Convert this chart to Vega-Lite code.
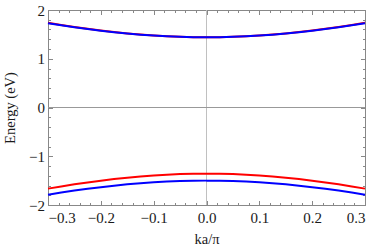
{
  "$schema": "https://vega.github.io/schema/vega-lite/v6.json",
  "width": 317,
  "height": 195,
  "autosize": {"type": "none"},
  "padding": {"left": 48, "top": 10, "right": 9, "bottom": 45},
  "config": {
    "view": {"stroke": "#888888", "strokeWidth": 1},
    "axis": {"domain": false, "grid": false, "tickColor": "#888888"}
  },
  "data": {"values": [
    {"k": -0.3, "E": 1.7374, "band": "upper", "c": "red"},
    {"k": -0.275, "E": 1.6934, "band": "upper", "c": "red"},
    {"k": -0.25, "E": 1.6522, "band": "upper", "c": "red"},
    {"k": -0.225, "E": 1.6141, "band": "upper", "c": "red"},
    {"k": -0.2, "E": 1.5791, "band": "upper", "c": "red"},
    {"k": -0.175, "E": 1.5476, "band": "upper", "c": "red"},
    {"k": -0.15, "E": 1.5198, "band": "upper", "c": "red"},
    {"k": -0.125, "E": 1.4959, "band": "upper", "c": "red"},
    {"k": -0.1, "E": 1.476, "band": "upper", "c": "red"},
    {"k": -0.075, "E": 1.4604, "band": "upper", "c": "red"},
    {"k": -0.05, "E": 1.4491, "band": "upper", "c": "red"},
    {"k": -0.025, "E": 1.4423, "band": "upper", "c": "red"},
    {"k": 0, "E": 1.44, "band": "upper", "c": "red"},
    {"k": 0.025, "E": 1.4423, "band": "upper", "c": "red"},
    {"k": 0.05, "E": 1.4491, "band": "upper", "c": "red"},
    {"k": 0.075, "E": 1.4604, "band": "upper", "c": "red"},
    {"k": 0.1, "E": 1.476, "band": "upper", "c": "red"},
    {"k": 0.125, "E": 1.4959, "band": "upper", "c": "red"},
    {"k": 0.15, "E": 1.5198, "band": "upper", "c": "red"},
    {"k": 0.175, "E": 1.5476, "band": "upper", "c": "red"},
    {"k": 0.2, "E": 1.5791, "band": "upper", "c": "red"},
    {"k": 0.225, "E": 1.6141, "band": "upper", "c": "red"},
    {"k": 0.25, "E": 1.6522, "band": "upper", "c": "red"},
    {"k": 0.275, "E": 1.6934, "band": "upper", "c": "red"},
    {"k": 0.3, "E": 1.7374, "band": "upper", "c": "red"},

    {"k": -0.3, "E": 1.7296, "band": "upper", "c": "blue"},
    {"k": -0.275, "E": 1.6867, "band": "upper", "c": "blue"},
    {"k": -0.25, "E": 1.6465, "band": "upper", "c": "blue"},
    {"k": -0.225, "E": 1.6093, "band": "upper", "c": "blue"},
    {"k": -0.2, "E": 1.5753, "band": "upper", "c": "blue"},
    {"k": -0.175, "E": 1.5447, "band": "upper", "c": "blue"},
    {"k": -0.15, "E": 1.5176, "band": "upper", "c": "blue"},
    {"k": -0.125, "E": 1.4943, "band": "upper", "c": "blue"},
    {"k": -0.1, "E": 1.475, "band": "upper", "c": "blue"},
    {"k": -0.075, "E": 1.4598, "band": "upper", "c": "blue"},
    {"k": -0.05, "E": 1.4488, "band": "upper", "c": "blue"},
    {"k": -0.025, "E": 1.4422, "band": "upper", "c": "blue"},
    {"k": 0, "E": 1.44, "band": "upper", "c": "blue"},
    {"k": 0.025, "E": 1.4422, "band": "upper", "c": "blue"},
    {"k": 0.05, "E": 1.4488, "band": "upper", "c": "blue"},
    {"k": 0.075, "E": 1.4598, "band": "upper", "c": "blue"},
    {"k": 0.1, "E": 1.475, "band": "upper", "c": "blue"},
    {"k": 0.125, "E": 1.4943, "band": "upper", "c": "blue"},
    {"k": 0.15, "E": 1.5176, "band": "upper", "c": "blue"},
    {"k": 0.175, "E": 1.5447, "band": "upper", "c": "blue"},
    {"k": 0.2, "E": 1.5753, "band": "upper", "c": "blue"},
    {"k": 0.225, "E": 1.6093, "band": "upper", "c": "blue"},
    {"k": 0.25, "E": 1.6465, "band": "upper", "c": "blue"},
    {"k": 0.275, "E": 1.6867, "band": "upper", "c": "blue"},
    {"k": 0.3, "E": 1.7296, "band": "upper", "c": "blue"},

    {"k": -0.3, "E": -1.6639, "band": "lower", "c": "red"},
    {"k": -0.275, "E": -1.6188, "band": "lower", "c": "red"},
    {"k": -0.25, "E": -1.5764, "band": "lower", "c": "red"},
    {"k": -0.225, "E": -1.5372, "band": "lower", "c": "red"},
    {"k": -0.2, "E": -1.5011, "band": "lower", "c": "red"},
    {"k": -0.175, "E": -1.4686, "band": "lower", "c": "red"},
    {"k": -0.15, "E": -1.4398, "band": "lower", "c": "red"},
    {"k": -0.125, "E": -1.415, "band": "lower", "c": "red"},
    {"k": -0.1, "E": -1.3944, "band": "lower", "c": "red"},
    {"k": -0.075, "E": -1.3782, "band": "lower", "c": "red"},
    {"k": -0.05, "E": -1.3664, "band": "lower", "c": "red"},
    {"k": -0.025, "E": -1.3594, "band": "lower", "c": "red"},
    {"k": 0, "E": -1.357, "band": "lower", "c": "red"},
    {"k": 0.025, "E": -1.3594, "band": "lower", "c": "red"},
    {"k": 0.05, "E": -1.3664, "band": "lower", "c": "red"},
    {"k": 0.075, "E": -1.3782, "band": "lower", "c": "red"},
    {"k": 0.1, "E": -1.3944, "band": "lower", "c": "red"},
    {"k": 0.125, "E": -1.415, "band": "lower", "c": "red"},
    {"k": 0.15, "E": -1.4398, "band": "lower", "c": "red"},
    {"k": 0.175, "E": -1.4686, "band": "lower", "c": "red"},
    {"k": 0.2, "E": -1.5011, "band": "lower", "c": "red"},
    {"k": 0.225, "E": -1.5372, "band": "lower", "c": "red"},
    {"k": 0.25, "E": -1.5764, "band": "lower", "c": "red"},
    {"k": 0.275, "E": -1.6188, "band": "lower", "c": "red"},
    {"k": 0.3, "E": -1.6639, "band": "lower", "c": "red"},

    {"k": -0.3, "E": -1.7875, "band": "lower", "c": "blue"},
    {"k": -0.275, "E": -1.7447, "band": "lower", "c": "blue"},
    {"k": -0.25, "E": -1.7048, "band": "lower", "c": "blue"},
    {"k": -0.225, "E": -1.6678, "band": "lower", "c": "blue"},
    {"k": -0.2, "E": -1.634, "band": "lower", "c": "blue"},
    {"k": -0.175, "E": -1.6036, "band": "lower", "c": "blue"},
    {"k": -0.15, "E": -1.5768, "band": "lower", "c": "blue"},
    {"k": -0.125, "E": -1.5537, "band": "lower", "c": "blue"},
    {"k": -0.1, "E": -1.5346, "band": "lower", "c": "blue"},
    {"k": -0.075, "E": -1.5196, "band": "lower", "c": "blue"},
    {"k": -0.05, "E": -1.5087, "band": "lower", "c": "blue"},
    {"k": -0.025, "E": -1.5022, "band": "lower", "c": "blue"},
    {"k": 0, "E": -1.5, "band": "lower", "c": "blue"},
    {"k": 0.025, "E": -1.5022, "band": "lower", "c": "blue"},
    {"k": 0.05, "E": -1.5087, "band": "lower", "c": "blue"},
    {"k": 0.075, "E": -1.5196, "band": "lower", "c": "blue"},
    {"k": 0.1, "E": -1.5346, "band": "lower", "c": "blue"},
    {"k": 0.125, "E": -1.5537, "band": "lower", "c": "blue"},
    {"k": 0.15, "E": -1.5768, "band": "lower", "c": "blue"},
    {"k": 0.175, "E": -1.6036, "band": "lower", "c": "blue"},
    {"k": 0.2, "E": -1.634, "band": "lower", "c": "blue"},
    {"k": 0.225, "E": -1.6678, "band": "lower", "c": "blue"},
    {"k": 0.25, "E": -1.7048, "band": "lower", "c": "blue"},
    {"k": 0.275, "E": -1.7447, "band": "lower", "c": "blue"},
    {"k": 0.3, "E": -1.7875, "band": "lower", "c": "blue"}
  ]},
  "resolve": {"axis": {"x": "independent", "y": "independent"}},
  "layer": [
    {
      "mark": {"type": "rule", "color": "#c0c0c0", "strokeWidth": 1},
      "encoding": {
        "x": {"datum": 0, "type": "quantitative", "scale": {"domain": [-0.3, 0.3], "nice": false},
              "axis": {"orient": "bottom", "values": [-0.3,-0.28,-0.26,-0.24,-0.22,-0.2,-0.18,-0.16,-0.14,-0.12,-0.1,-0.08,-0.06,-0.04,-0.02,0,0.02,0.04,0.06,0.08,0.1,0.12,0.14,0.16,0.18,0.2,0.22,0.24,0.26,0.28,0.3], "labels": false, "tickSize": -2.5, "tickColor": "#888888", "domain": false, "title": null}}
      }
    },
    {
      "mark": {"type": "rule", "color": "#c0c0c0", "strokeWidth": 1, "strokeOpacity": 0},
      "encoding": {
        "x": {"datum": 0, "type": "quantitative", "scale": {"domain": [-0.3, 0.3], "nice": false},
              "axis": {"orient": "top", "values": [-0.3,-0.28,-0.26,-0.24,-0.22,-0.2,-0.18,-0.16,-0.14,-0.12,-0.1,-0.08,-0.06,-0.04,-0.02,0,0.02,0.04,0.06,0.08,0.1,0.12,0.14,0.16,0.18,0.2,0.22,0.24,0.26,0.28,0.3], "labels": false, "tickSize": -2.5, "tickColor": "#888888", "domain": false, "title": null}}
      }
    },
    {
      "mark": {"type": "rule", "color": "#999999", "strokeWidth": 0.8},
      "encoding": {
        "y": {"datum": 0, "type": "quantitative", "scale": {"domain": [-2, 2], "nice": false},
              "axis": {"orient": "left", "values": [-2,-1.8,-1.6,-1.4,-1.2,-1,-0.8,-0.6,-0.4,-0.2,0,0.2,0.4,0.6,0.8,1,1.2,1.4,1.6,1.8,2], "labels": false, "tickSize": -2.5, "tickColor": "#888888", "domain": false, "title": null}}
      }
    },
    {
      "mark": {"type": "rule", "color": "#999999", "strokeWidth": 0.8, "strokeOpacity": 0},
      "encoding": {
        "y": {"datum": 0, "type": "quantitative", "scale": {"domain": [-2, 2], "nice": false},
              "axis": {"orient": "right", "values": [-2,-1.8,-1.6,-1.4,-1.2,-1,-0.8,-0.6,-0.4,-0.2,0,0.2,0.4,0.6,0.8,1,1.2,1.4,1.6,1.8,2], "labels": false, "tickSize": -2.5, "tickColor": "#888888", "domain": false, "title": null}}
      }
    },
    {
      "transform": [{"filter": "datum.c === 'red'"}],
      "mark": {"type": "line", "color": "#ff0000", "strokeWidth": 2, "interpolate": "monotone"},
      "encoding": {
        "detail": {"field": "band"},
        "x": {"field": "k", "type": "quantitative", "scale": {"domain": [-0.3, 0.3], "nice": false},
              "axis": {"orient": "bottom", "values": [-0.3,-0.2,-0.1,0,0.1,0.2,0.3], "format": ".1f", "tickSize": -4.5, "tickColor": "#888888", "domain": false, "labelPadding": 10, "labelFont": "Liberation Serif", "labelFontSize": 15, "labelColor": "#1a1a1a", "title": "ka/π", "titleFont": "Liberation Serif", "titleFontSize": 14.5, "titleFontWeight": "normal", "titleColor": "#1a1a1a", "titlePadding": 7}},
        "y": {"field": "E", "type": "quantitative", "scale": {"domain": [-2, 2], "nice": false},
              "axis": {"orient": "left", "values": [-2,-1,0,1,2], "format": "d", "tickSize": -4.5, "tickColor": "#888888", "domain": false, "labelPadding": 8, "labelFont": "Liberation Serif", "labelFontSize": 15, "labelColor": "#1a1a1a", "title": "Energy (eV)", "titleFont": "Liberation Serif", "titleFontSize": 14.5, "titleFontWeight": "normal", "titleColor": "#1a1a1a", "titlePadding": 11}}
      }
    },
    {
      "transform": [{"filter": "datum.c === 'blue'"}],
      "mark": {"type": "line", "color": "#0000ff", "strokeWidth": 2, "interpolate": "monotone"},
      "encoding": {
        "detail": {"field": "band"},
        "x": {"field": "k", "type": "quantitative", "scale": {"domain": [-0.3, 0.3], "nice": false},
              "axis": {"orient": "top", "values": [-0.3,-0.2,-0.1,0,0.1,0.2,0.3], "labels": false, "tickSize": -4.5, "tickColor": "#888888", "domain": false, "title": null}},
        "y": {"field": "E", "type": "quantitative", "scale": {"domain": [-2, 2], "nice": false},
              "axis": {"orient": "right", "values": [-2,-1,0,1,2], "labels": false, "tickSize": -4.5, "tickColor": "#888888", "domain": false, "title": null}}
      }
    }
  ]
}
